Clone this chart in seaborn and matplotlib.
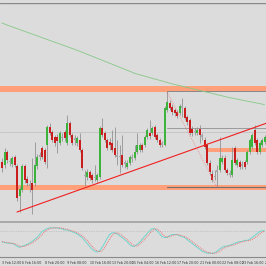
import matplotlib
matplotlib.use("Agg")
import matplotlib.pyplot as plt
import numpy as np
import pandas as pd
import seaborn as sns

# ---- data (price units of the hidden scale; smaller = higher on the chart) ----
opens = [162,165,152,162,164,157,166,196,190,166,
         179,184,183,183,166,157,148,150,145,127,
         132,137,137,143,137,132,143,123,135,138,
         143,140,150,175,177,172,175,177,180,177,
         128,133,140,142,143,148,155,156,155,162,
         167,163,157,158,152,150,145,145,137,133,
         133,127,135,140,143,145,110,103,107,110,
         112,113,106,108,117,120,129,131,133,129,
         135,140,145,163,174,176,170,170,162,158,
         170,173,175,148,165,162,164,162,162,152,
         147,130,140,152,145,142]
closes = [168,152,160,161,158,165,198,189,166,180,
          183,186,190,165,157,155,157,162,127,133,
          140,143,141,133,138,138,123,135,143,140,
          138,150,168,176,172,178,180,178,175,128,
          135,140,148,145,150,155,157,157,165,164,
          163,157,159,152,145,145,150,137,130,136,
          128,137,140,145,145,108,102,108,112,113,
          116,106,108,118,122,133,133,132,130,135,
          137,147,163,172,180,177,172,158,158,170,
          173,175,160,163,160,167,166,167,152,140,
          135,143,152,143,140,137]
highs = [158,148,150,158,156,155,164,186,164,164,
         176,180,158,142,154,152,146,148,125,123,
         130,135,134,131,133,130,115,121,133,135,
         136,133,148,170,169,170,173,165,173,126,
         118,131,138,138,130,127,140,145,135,160,
         160,155,154,145,133,143,143,135,128,120,
         126,125,133,138,141,106,92,100,104,108,
         110,104,98,106,115,118,126,128,127,125,
         133,137,143,160,170,170,165,137,155,155,
         168,170,147,146,158,160,161,160,150,138,
         133,125,138,141,138,135]
lows = [172,168,163,166,167,167,201,212,192,183,
        186,192,214,186,169,160,159,164,168,135,
        142,146,153,145,141,141,145,137,145,145,
        146,152,170,186,180,180,183,181,182,179,
        137,142,150,150,152,157,165,173,167,168,
        169,165,162,160,154,152,152,147,139,139,
        135,139,142,147,147,146,112,110,115,116,
        118,115,117,120,125,135,136,135,135,143,
        140,149,165,175,182,180,187,172,164,172,
        175,177,177,165,167,169,169,169,164,154,
        149,145,154,154,147,144]
ma_slow = [23.0,24.0,25.0,25.9,26.8,27.7,28.6,29.5,30.4,31.3,
           32.2,33.1,34.0,34.9,35.8,36.7,37.6,38.5,39.4,40.3,
           41.2,42.1,43.0,43.9,44.8,45.7,46.6,47.5,48.4,49.3,
           50.2,51.2,52.2,53.2,54.2,55.2,56.2,57.2,58.2,59.2,
           60.2,61.2,62.2,63.2,64.2,65.2,66.2,67.2,68.2,69.2,
           70.2,71.2,72.2,73.3,74.0,74.7,75.4,76.1,76.8,77.5,
           78.2,78.9,79.6,80.3,81.0,81.7,82.4,83.1,83.8,84.4,
           85.0,85.6,86.2,86.8,87.4,88.0,88.6,89.2,89.8,90.4,
           91.0,91.6,92.2,92.8,93.4,94.0,94.6,95.2,95.8,96.4,
           97.0,97.6,98.1,98.6,99.1,99.6,100.1,100.6,101.1,101.6,
           102.1,102.6,103.1,103.6,104.1,104.6]
stoch_main = [42,40,38,37,37,33,27,23,27,30,
              33,38,43,50,57,67,77,83,87,90,
              90,90,90,88,87,83,83,80,77,73,
              70,63,57,47,37,27,17,10,7,10,
              23,37,53,67,73,73,70,63,57,50,
              43,33,27,27,33,40,50,60,70,80,
              87,87,80,70,60,57,57,63,67,67,
              67,63,60,57,50,43,37,30,23,17,
              10,7,3,3,3,3,10,17,23,27,
              27,30,33,37,40,43,43,47,47,50,
              57,63,70,77,80,80]
stoch_signal = [43,41,40,38,37,36,32,27,25,27,
                30,34,38,44,50,58,67,76,83,87,
                89,90,90,90,89,87,85,82,80,77,
                73,69,63,56,47,37,27,18,11,8,
                11,22,36,51,64,71,73,70,64,57,
                50,42,34,28,28,33,41,50,60,70,
                79,86,86,80,70,62,58,60,63,66,
                67,66,63,60,56,50,43,37,30,23,
                17,11,7,4,3,3,5,9,16,22,
                26,28,30,32,36,39,42,44,46,47,
                50,55,61,68,75,79]
tick_bars = [0, 8, 17, 26, 35, 44, 52, 61, 70, 79, 88, 96, 105]
tick_labels = ["3 Feb 12:00", "6 Feb 16:00", "8 Feb 20:00", "9 Feb 08:00",
               "10 Feb 16:00", "13 Feb 20:00", "15 Feb 04:00", "16 Feb 12:00",
               "17 Feb 20:00", "21 Feb 00:00", "22 Feb 08:00", "23 Feb 16:00",
               "24 Feb 20:00"]
zone_upper = [86, 91.5]
zone_lower = [185, 190]
zone_mid = [148, 151.5]
zone_mid_start = 82
level_box = 90.5
level_mid = 128
level_low = 187.3
level_faint = 132
level_start = 66
trend_bars = [6, 106]
trend_vals = [212, 123]
fib_bars = [66, 86]
fib_vals = [92, 187]
stoch_level = 80

# ---- figure ----
sns.set_theme(style="white")
plt.rcParams['font.family'] = ['DejaVu Sans']
BG = "#dcdcdc"
fig = plt.figure(figsize=(2.66, 2.66), dpi=100, facecolor=BG)
H = 266.0
ax = fig.add_axes([0, (H - 221) / H, 1, 218 / H])
axs = fig.add_axes([0, (H - 257) / H, 1, 34 / H])
for a in (ax, axs):
    a.set_facecolor(BG)
    for s in a.spines.values():
        s.set_visible(False)

n = len(opens)
idx = np.arange(n)
df = pd.DataFrame({"bar": idx, "open": opens, "close": closes, "high": highs,
                   "low": lows, "ma": ma_slow, "k": stoch_main, "d": stoch_signal})

xl = (-0.8, 105.6)

# zones
ax.axhspan(zone_upper[0], zone_upper[1], color="#ffa07a", lw=0, zorder=1)
ax.axhspan(zone_lower[0], zone_lower[1], color="#ffa07a", lw=0, zorder=1)
ax.fill_between([zone_mid_start, xl[1]], zone_mid[0], zone_mid[1], color="#ffa07a", lw=0, zorder=1)
ax.axhline(level_faint, color="#c4c4c4", lw=0.6, zorder=1)
ax.plot([level_start, xl[1]], [level_box, level_box], color="#8a8a8a", lw=0.7, zorder=2)
ax.plot([level_start, xl[1]], [level_mid, level_mid], color="#9a9a9a", lw=0.7, zorder=2)
ax.plot([level_start, xl[1]], [level_low, level_low], color="#707070", lw=0.8, zorder=2)
ax.plot([level_start, level_start], [level_box, level_box + 2], color="#8a8a8a", lw=0.6, zorder=2)

# moving average
sns.lineplot(data=df, x="bar", y="ma", ax=ax, color="#86c986", lw=0.6, zorder=2)

# candles
ax.vlines(df["bar"], df["high"], df["low"], color="#8c8c8c", lw=0.55, zorder=3)
body_lo = np.minimum(df["open"], df["close"])
body_h = np.abs(df["close"] - df["open"])
colors = np.where(body_h <= 2, "#a6a6a6",
                  np.where(df["close"] < df["open"], "#3cb43c", "#c81e1e"))
ax.bar(df["bar"], np.maximum(body_h, 0.8), bottom=body_lo, width=0.8,
       color=colors, lw=0, zorder=4)

# trend lines
ax.plot(trend_bars, trend_vals, color="#f02020", lw=0.8, zorder=5)
ax.plot(fib_bars, fib_vals, color="#f08080", lw=0.6, ls=(0, (1, 1.5)), zorder=5)

ax.set_xlim(*xl)
ax.set_ylim(221, 3)
ax.set_xticks([]); ax.set_yticks([])
ax.set_xlabel(""); ax.set_ylabel("")
ax.axhline(3, color="#8a8a8a", lw=1.0)

# stochastic
axs.axhline(stoch_level, color="#b0b0b0", lw=0.5, ls=(0, (1, 1.5)))
sns.lineplot(data=df, x="bar", y="k", ax=axs, color="#6fd6cf", lw=0.7)
sns.lineplot(data=df, x="bar", y="d", ax=axs, color="#f07070", lw=0.7, ls=(0, (1, 1)))
axs.set_xlim(*xl)
axs.set_ylim(-10, 106.7)
axs.set_yticks([])
axs.set_xlabel(""); axs.set_ylabel("")
axs.spines["bottom"].set_visible(True)
axs.spines["bottom"].set_color("#8a8a8a")
axs.spines["bottom"].set_linewidth(0.8)
axs.set_xticks(tick_bars)
axs.set_xticklabels(tick_labels, ha="left", fontsize=2.3, color="#303030")
axs.tick_params(axis="x", direction="out", length=2.2, width=0.5, color="#505050", pad=0.6)

# separator between panels
fig.add_artist(plt.Line2D([0, 1], [(H - 222) / H, (H - 222) / H], color="#a0a0a0", lw=1.2))

fig.savefig("out.png", dpi=100, facecolor=BG)
